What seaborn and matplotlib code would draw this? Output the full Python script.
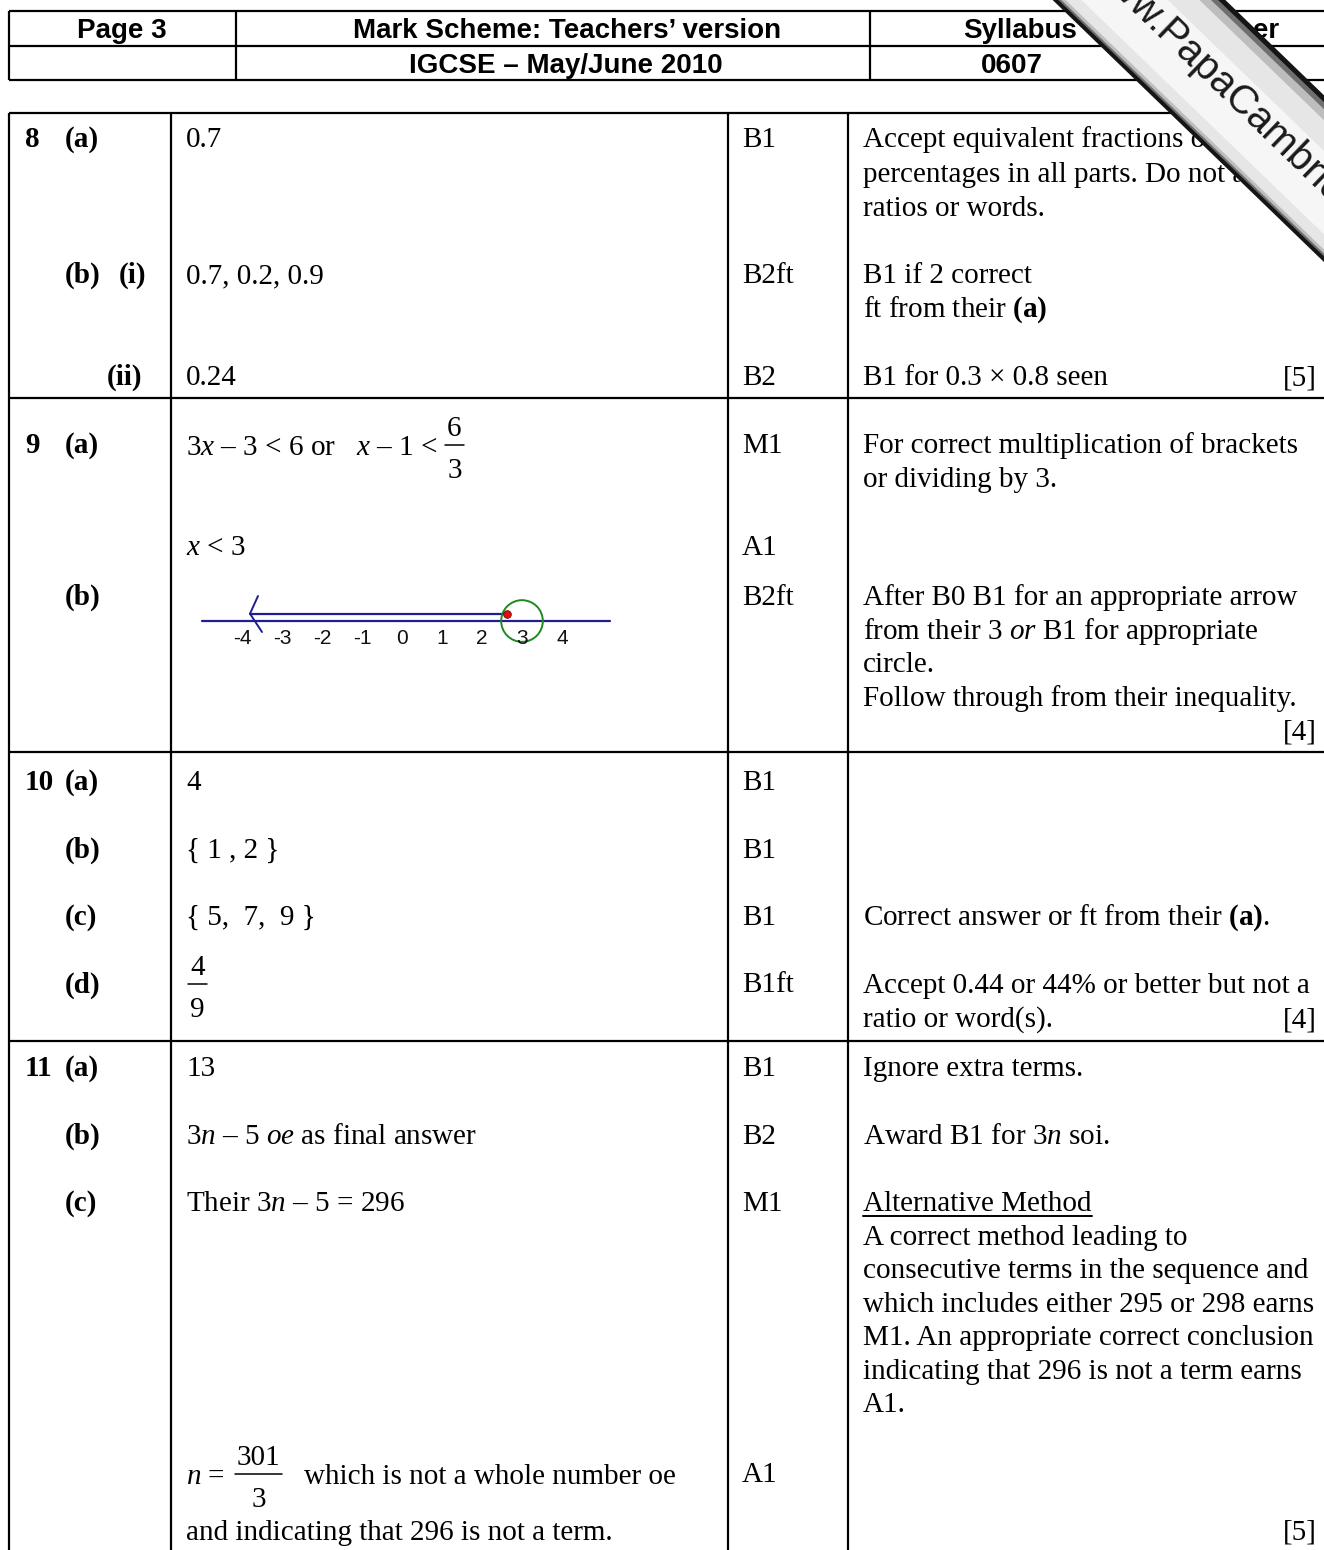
import matplotlib
matplotlib.use("Agg")
import matplotlib.pyplot as plt
from matplotlib.patches import Polygon
import numpy as np
import pandas as pd
import seaborn as sns

# ---- content -------------------------------------------------------------
header_top = ["Page 3", "Mark Scheme: Teachers\u2019 version", "Syllabus", "Paper"]
header_bottom = ["", "IGCSE \u2013 May/June 2010", "0607", ""]

q_numbers = ["8", "9", "10", "11"]
part_labels = ["(a)", "(b)", "(i)", "(ii)", "(a)", "(b)", "(a)", "(b)", "(c)",
               "(d)", "(a)", "(b)", "(c)"]

# answers column; tuples are (numerator, denominator), ints are gaps
answers = [
    ["0.7"],
    ["0.7, 0.2, 0.9"],
    ["0.24"],
    [r"3$x$ – 3 < 6 or   $x$ – 1 <", 8, ("6", "3")],
    [r"$x$ < 3"],
    ["4"],
    ["{ 1 , 2 }"],
    ["{ 5,  7,  9 }"],
    [2, ("4", "9")],
    ["13"],
    [r"3$n$ – 5 $\mathit{oe}$ as final answer"],
    [r"Their 3$n$ – 5 = 296"],
    [r"$n$ =", 10, ("301", "3"), 22, "which is not a whole number oe"],
    ["and indicating that 296 is not a term."],
]

marks = ["B1", "B2ft", "B2", "M1", "A1", "B2ft", "B1", "B1", "B1", "B1ft",
         "B1", "B2", "M1", "A1"]

notes = [
    "Accept equivalent fractions or",
    "percentages in all parts. Do not accept",
    "ratios or words.",
    "B1 if 2 correct",
    r"ft from their $\mathbf{(a)}$",
    "B1 for 0.3 \u00d7 0.8 seen",
    "For correct multiplication of brackets",
    "or dividing by 3.",
    "After B0 B1 for an appropriate arrow",
    r"from their 3 $\mathit{or}$ B1 for appropriate",
    "circle.",
    "Follow through from their inequality.",
    r"Correct answer or ft from their $\mathbf{(a)}$.",
    "Accept 0.44 or 44% or better but not a",
    "ratio or word(s).",
    "Ignore extra terms.",
    r"Award B1 for 3$n$ soi.",
    "Alternative Method",
    "A correct method leading to",
    "consecutive terms in the sequence and",
    "which includes either 295 or 298 earns",
    "M1. An appropriate correct conclusion",
    "indicating that 296 is not a term earns",
    "A1.",
]
totals = ["[5]", "[4]", "[4]", "[5]"]

# number line for 9(b)
nl_ticks = [-4, -3, -2, -1, 0, 1, 2, 3, 4]
nl_range = [-5.0, 5.2]
arrow_start = 2.63
arrow_tip = -3.8
circle_at = 3

watermark = "www.PapaCambridge.com"

# ---- layout (pixel baselines) -------------------------------------------
q_number_y = [147, 453, 790, 1076]
part_x = [65, 65, 119, 107, 65, 65, 65, 65, 65, 65, 65, 65, 65]
part_y = [147, 283, 283, 385, 453, 605, 790, 858, 925, 993, 1076, 1144, 1211]
answer_y = [147, 283, 385, 455, 555, 790, 858, 925, 994, 1076, 1144, 1211,
            1484, 1540]
mark_y = [147, 283, 385, 453, 555, 605, 790, 858, 925, 992, 1076, 1144, 1211,
          1482]
note_y = [147, 182, 216, 283, 317, 385, 453, 487, 605, 639, 672, 706, 925,
          993, 1027, 1076, 1144, 1211, 1245, 1278, 1312, 1345, 1379, 1412]
total_y = [385, 740, 1027, 1540]

W, H = 1324, 1550

sns.set_theme(style="white")
plt.rcParams["font.family"] = ["Liberation Serif", "DejaVu Serif"]
plt.rcParams["mathtext.fontset"] = "custom"
plt.rcParams["mathtext.rm"] = "Liberation Serif"
plt.rcParams["mathtext.it"] = "Liberation Serif:italic"
plt.rcParams["mathtext.bf"] = "Liberation Serif:bold"

fig = plt.figure(figsize=(W / 100, H / 100), dpi=100)
fig.patch.set_facecolor("white")
ax = fig.add_axes([0, 0, 1, 1])
ax.set_xlim(0, W)
ax.set_ylim(H, 0)
ax.axis("off")
renderer = fig.canvas.get_renderer()

lw = 1.6
body = dict(family="Liberation Serif", fontsize=21, va="baseline", color="black")
head = dict(family="Liberation Sans", fontsize=20, fontweight="bold",
            va="baseline", ha="center", color="black")


def width(t):
    return t.get_window_extent(renderer=renderer).width


def inline(x, y, parts):
    # lays out text pieces and stacked fractions on one baseline
    for p in parts:
        if isinstance(p, tuple):
            tn = ax.text(x, y - 19, p[0], **body)
            td = ax.text(x, y + 23, p[1], **body)
            wn, wd = width(tn), width(td)
            w = max(wn, wd) + 4
            tn.set_x(x + (w - wn) / 2)
            td.set_x(x + (w - wd) / 2)
            ax.plot([x, x + w], [y - 10, y - 10], color="black", lw=1.1)
            x += w
        elif isinstance(p, int):
            x += p
        else:
            t = ax.text(x, y, p, **body)
            x += width(t)


# header box
ax.hlines([11, 46, 80], 9, W, color="black", lw=lw)
ax.vlines([9, 236, 870], 11, 80, color="black", lw=lw)
for txt, cx in zip(header_top, [122, 567, 1020, 1241]):
    ax.text(cx, 38, txt, **head)
for txt, cx in zip(header_bottom, [122, 566, 1012, 1241]):
    if txt:
        ax.text(cx, 73, txt, **head)

# main table grid
ax.hlines([113, 398, 752, 1041], 9, W, color="black", lw=lw)
ax.vlines([9, 171, 728, 848], 113, H, color="black", lw=lw)

for txt, y in zip(q_numbers, q_number_y):
    ax.text(25, y, txt, fontweight="bold", **body)
for txt, x, y in zip(part_labels, part_x, part_y):
    ax.text(x, y, txt, fontweight="bold", **body)
for parts, y in zip(answers, answer_y):
    inline(186, y, parts)
for txt, y in zip(marks, mark_y):
    ax.text(742, y, txt, **body)
note_texts = []
for txt, y in zip(notes, note_y):
    note_texts.append(ax.text(863, y, txt, **body))
for txt, y in zip(totals, total_y):
    ax.text(1317, y, txt, ha="right", **body)

# underline "Alternative Method"
alt = note_texts[notes.index("Alternative Method")]
ax.plot([863, 863 + width(alt)], [1216, 1216], color="black", lw=1.4)

# ---- number line (inset axes in its own scale) -----------------------------
px_left, px_right, px_top, px_bot = 180, 640, 580, 660
zero_px, unit_px, base_px = 402, 40, 621
ax_nl = fig.add_axes([px_left / W, 1 - px_bot / H,
                      (px_right - px_left) / W, (px_bot - px_top) / H])
ax_nl.set_xlim((px_left - zero_px) / unit_px, (px_right - zero_px) / unit_px)
ax_nl.set_ylim(base_px - px_bot, base_px - px_top)
ax_nl.axis("off")

navy = "#1f1f8f"
line_df = pd.DataFrame({"x": nl_range, "y": [0, 0]})
sns.lineplot(data=line_df, x="x", y="y", ax=ax_nl, color=navy, lw=1.6,
             sort=False, estimator=None)
arrow_df = pd.DataFrame({"x": [arrow_start, arrow_tip], "y": [7.3, 7.3]})
sns.lineplot(data=arrow_df, x="x", y="y", ax=ax_nl, color=navy, lw=1.6,
             sort=False, estimator=None)
head_df = pd.DataFrame({"x": [arrow_tip + 0.2, arrow_tip, arrow_tip + 0.3],
                        "y": [25, 7.3, -11]})
sns.lineplot(data=head_df, x="x", y="y", ax=ax_nl, color=navy, lw=1.4,
             sort=False, estimator=None)
ax_nl.scatter([circle_at], [0], s=900, facecolors="none",
              edgecolors="#1e8a1e", linewidths=1.4, zorder=3)
ax_nl.scatter([arrow_start], [7.3], s=30, color="#e01010",
              edgecolors="#7a0000", linewidths=0.6, zorder=4)
for t in nl_ticks:
    ax_nl.text(t, -18, str(t), ha="center", va="center",
               family="Liberation Sans", fontsize=15, color="#111111")

# ---- watermark band --------------------------------------------------------
ang = np.deg2rad(44)
d = np.array([np.cos(ang), np.sin(ang)])
n = np.array([-np.sin(ang), np.cos(ang)])
c0 = np.array([1139.0, 0.0])


def band(lo, hi, color, z):
    p0, p1 = c0 - 250 * d, c0 + 450 * d
    pts = [p0 + lo * n, p1 + lo * n, p1 + hi * n, p0 + hi * n]
    ax.add_patch(Polygon(pts, closed=True, facecolor=color,
                         edgecolor="none", zorder=z))


band(-60, 60, "#151515", 10)
band(-55, 56, "#6f6f6f", 11)
band(-50, 54, "#bdbdbd", 12)
band(-42, 51, "#e6e6e6", 13)
band(-20, 40, "#f6f6f6", 14)

start = c0 - 62 * d + 2 * n
ax.text(start[0], start[1], watermark, rotation=-44, rotation_mode="anchor",
        ha="left", va="center", family="Liberation Sans", fontsize=29,
        color="#1a1a1a", zorder=20)

fig.savefig("out.png", dpi=100)
